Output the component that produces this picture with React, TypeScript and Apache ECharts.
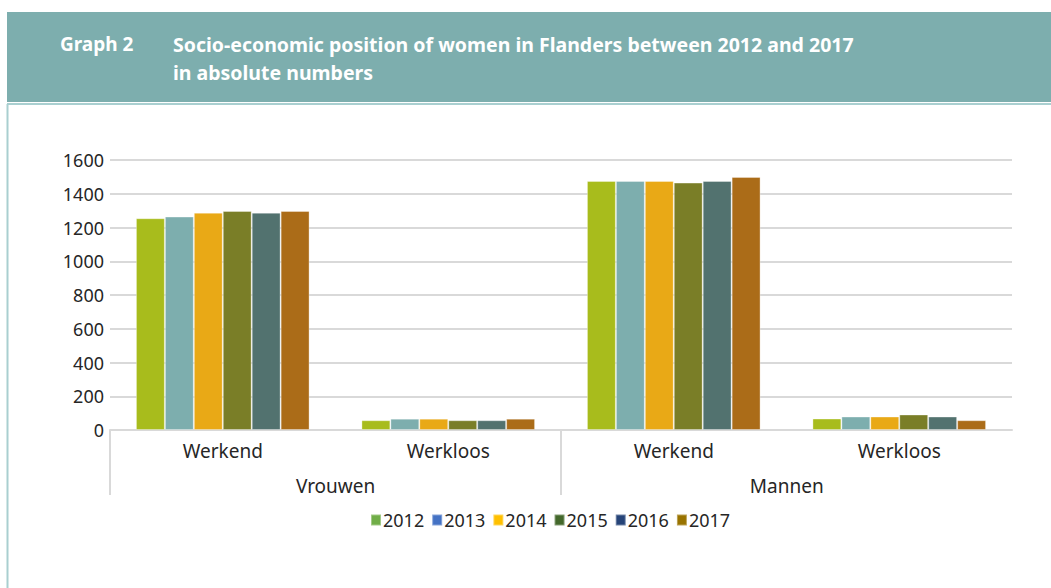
import React, { useEffect, useRef } from "react";
import * as echarts from "echarts";

const groups = ["Vrouwen", "Mannen"];
const subCategories = ["Werkend", "Werkloos"];
const years = ["2012", "2013", "2014", "2015", "2016", "2017"];
const s2012 = [1255, 58, 1476, 68];
const s2013 = [1265, 67, 1476, 80];
const s2014 = [1288, 67, 1476, 80];
const s2015 = [1298, 58, 1466, 92];
const s2016 = [1288, 58, 1476, 80];
const s2017 = [1298, 67, 1500, 58];
const yTicks = { min: 0, max: 1600, interval: 200 };

const barColors = ["#A8BC1C", "#7DAEAE", "#E9A916", "#7A7E27", "#52726F", "#AB6C18"];
const legendColors = ["#70AD47", "#4472C4", "#FFC000", "#43682B", "#264478", "#997300"];

const FONT = "'Noto Sans', 'Open Sans', sans-serif";

export default function App() {
  const ref = useRef<HTMLDivElement>(null);
  useEffect(() => {
    if (!ref.current) return;
    const chart = echarts.init(ref.current, undefined, { renderer: "svg" });
    const categories: string[] = [];
    groups.forEach((g) => subCategories.forEach((s) => categories.push(g + "|" + s)));
    const seriesValues = [s2012, s2013, s2014, s2015, s2016, s2017];
    chart.setOption({
      animation: false,
      textStyle: { fontFamily: FONT },
      graphic: [
        { type: "rect", shape: { x: 7, y: 12, width: 1044, height: 90 }, style: { fill: "#7DAEAE" }, silent: true },
        { type: "line", shape: { x1: 7, y1: 104, x2: 1051, y2: 104 }, style: { stroke: "#A9CFD0", lineWidth: 2 }, silent: true },
        { type: "line", shape: { x1: 7.5, y1: 104, x2: 7.5, y2: 588 }, style: { stroke: "#A9CFD0", lineWidth: 2 }, silent: true },
        { type: "text", x: 60, y: 44, style: { text: "Graph 2", fill: "#ffffff", font: "bold 19px " + FONT, textVerticalAlign: "middle" }, silent: true },
        { type: "text", x: 173, y: 44, style: { text: "Socio-economic position of women in Flanders between 2012 and 2017", fill: "#ffffff", font: "bold 19.5px " + FONT, textVerticalAlign: "middle" }, silent: true },
        { type: "text", x: 173, y: 72, style: { text: "in absolute numbers", fill: "#ffffff", font: "bold 19.5px " + FONT, textVerticalAlign: "middle" }, silent: true },
      ],
      legend: {
        left: 365,
        top: 506,
        icon: "rect",
        itemWidth: 10,
        itemHeight: 11,
        itemGap: 7,
        textStyle: { fontSize: 18, color: "#262626", fontFamily: FONT, padding: [0, 0, 0, -3] },
        data: years.map((y, i) => ({ name: y, itemStyle: { color: legendColors[i] } })),
      },
      grid: [
        { left: 110, right: 39, top: 160, bottom: 158, outerBoundsMode: "none" },
        { left: 110, width: 1353.5, top: 160, bottom: 158, outerBoundsMode: "none" },
      ],
      xAxis: [
        {
          type: "category",
          gridIndex: 0,
          data: categories,
          axisLine: { show: true, lineStyle: { color: "#D9D9D9", width: 2 } },
          axisTick: { show: false },
          axisLabel: {
            formatter: (v: string) => v.split("|")[1],
            fontSize: 19,
            color: "#262626",
            margin: 11,
            fontFamily: FONT,
          },
        },
        {
          type: "category",
          gridIndex: 1,
          data: [...groups, ""],
          axisLine: { show: false },
          axisTick: {
            show: true,
            length: 65,
            interval: (index: number) => index < groups.length,
            lineStyle: { color: "#D9D9D9", width: 2 },
          },
          axisLabel: { fontSize: 19, color: "#262626", margin: 46, fontFamily: FONT },
        },
      ],
      yAxis: [
        {
          type: "value",
          gridIndex: 0,
          min: yTicks.min,
          max: yTicks.max,
          interval: yTicks.interval,
          axisLine: { show: false },
          axisTick: { show: false },
          splitLine: { lineStyle: { color: "#D9D9D9", width: 2 } },
          axisLabel: { fontSize: 18, color: "#262626", margin: 6, fontFamily: FONT, formatter: (v: number) => String(v) },
        },
        { type: "value", gridIndex: 1, show: false, min: 0, max: 1600 },
      ],
      series: years.map((y, i) => ({
        name: y,
        type: "bar",
        xAxisIndex: 0,
        yAxisIndex: 0,
        data: seriesValues[i],
        barGap: "0%",
        barCategoryGap: "23%",
        itemStyle: { color: barColors[i], borderColor: "rgba(255,255,255,0.35)", borderWidth: 1 },
      })),
    });
    return () => chart.dispose();
  }, []);
  return <div ref={ref} style={{ position: "absolute", left: 0, top: 0, width: 1051, height: 588 }} />;
}
